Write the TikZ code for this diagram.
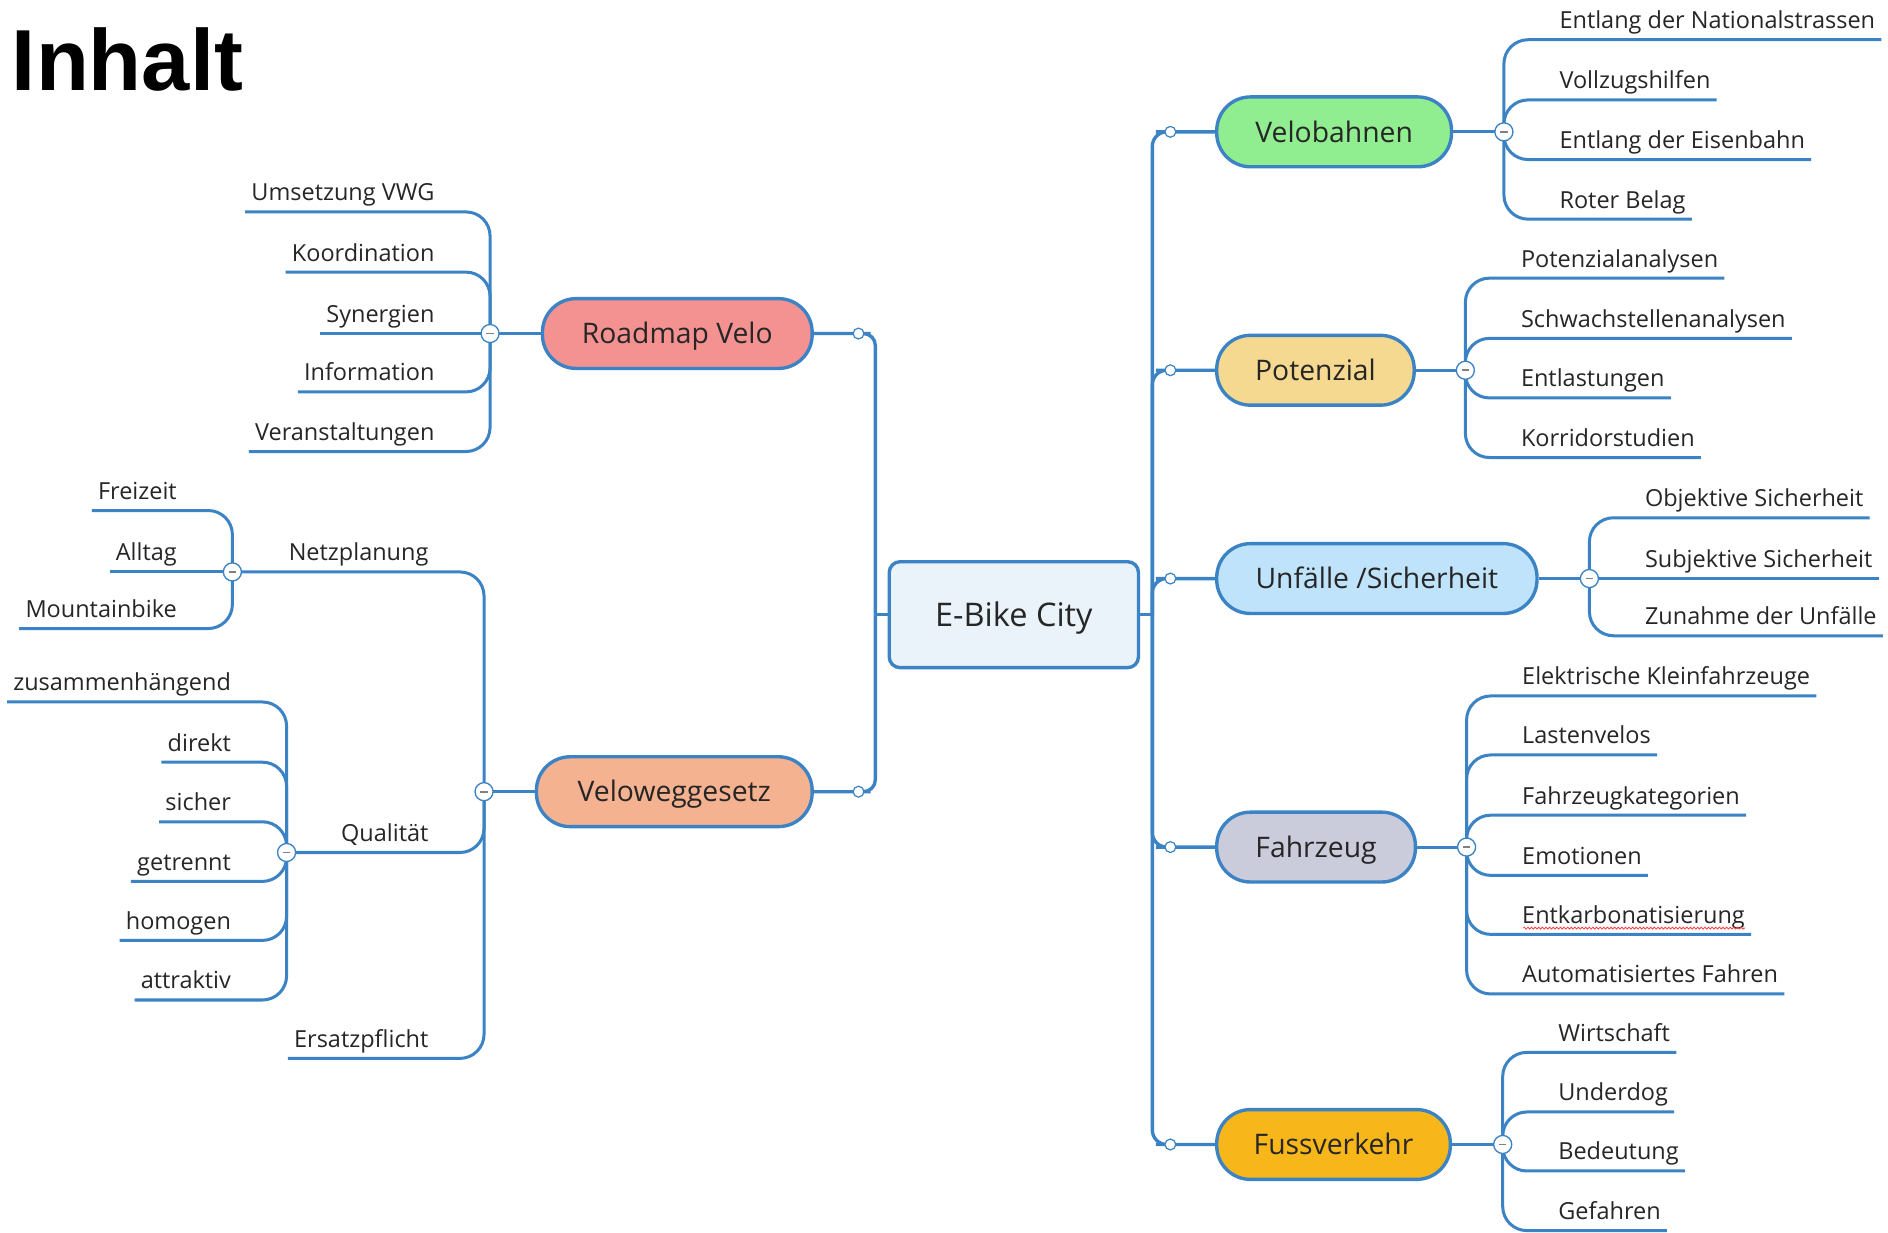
\documentclass[tikz,border=0pt]{standalone}
\usepackage{fontspec}
\setmainfont{Open Sans}
\newfontfamily\inhaltfont{Liberation Sans}
\usetikzlibrary{backgrounds,decorations.pathmorphing}
\definecolor{lineblue}{RGB}{59,131,196}
\definecolor{txt}{RGB}{38,38,38}
\definecolor{fRV}{RGB}{244,146,146}
\definecolor{fVG}{RGB}{245,178,144}
\definecolor{fVB}{RGB}{144,238,144}
\definecolor{fPO}{RGB}{245,217,144}
\definecolor{fUS}{RGB}{191,227,250}
\definecolor{fFZ}{RGB}{203,204,219}
\definecolor{fFV}{RGB}{247,182,26}
\definecolor{fEB}{RGB}{235,243,250}
\newcommand\leaffont{\fontsize{19.5}{23}\selectfont}
\newcommand\topicfont{\fontsize{23.5}{27}\selectfont}
\newcommand\centerfont{\fontsize{27}{32}\selectfont}
\begin{document}
\begin{tikzpicture}[x=1pt,y=-1pt,
  leafR/.style={anchor=south west, inner xsep=5pt, inner ysep=0pt, text depth=9pt, font=\leaffont, text=txt},
  leafL/.style={anchor=south east, inner xsep=5pt, inner ysep=0pt, text depth=9pt, font=\leaffont, text=txt},
  topic/.style={draw=lineblue, line width=2.8pt, rounded corners=28pt, minimum height=58pt, inner sep=0pt, text height=17pt, text depth=0pt, font=\topicfont, text=txt},
  minus/.style={circle, draw=lineblue, fill=white, line width=1.1pt, minimum size=15pt, inner sep=0pt},
  dot/.style={circle, draw=lineblue, fill=white, line width=1pt, minimum size=9pt, inner sep=0pt},
  trunk/.style={draw=lineblue, line width=2.8pt},
  leafline/.style={draw=lineblue, line width=2.5pt, rounded corners=20pt},
]
\useasboundingbox (0,0) rectangle (1568,1024);

% title
\node[anchor=base west, inner sep=0pt, font=\inhaltfont\bfseries\fontsize{72}{80}\selectfont] (title) at (9.7,75) {Inhalt};

% centre
\node[draw=lineblue, line width=2.8pt, rounded corners=9pt, fill=fEB, minimum width=207pt, minimum height=88pt, text height=20pt, text depth=0pt, font=\centerfont, text=txt] (ebc) at (842,510.5) {E-Bike City};

% topics
\node[topic, fill=fRV, minimum width=224pt] (rv) at (562.5,277) {Roadmap Velo};
\node[topic, fill=fVG, minimum width=229pt] (vg) at (560,657.5) {Veloweggesetz};
\node[topic, fill=fVB, minimum width=195pt] (vb) at (1108,109.5) {Velobahnen};
\node[topic, fill=fPO, minimum width=164pt] (po) at (1092.5,307.5) {Potenzial};
\node[topic, fill=fUS, minimum width=266pt] (us) at (1143.5,480.5) {Unfälle /Sicherheit};
\node[topic, fill=fFZ, minimum width=165pt] (fz) at (1093,703.5) {Fahrzeug};
\node[topic, fill=fFV, minimum width=194pt] (fv) at (1107.5,950.5) {Fussverkehr};

% small connector dots
\coordinate (lt) at (727,510.5);
\coordinate (rt) at (957,510.5);
\node[dot] (dRV) at (713,277) {};
\node[dot] (dVG) at (713,657.5) {};
\node[dot] (dVB) at (972,109.5) {};
\node[dot] (dPO) at (972,307.5) {};
\node[dot] (dUS) at (972,480.5) {};
\node[dot] (dFZ) at (972,703.5) {};
\node[dot] (dFV) at (972,950.5) {};

% minus circles
\foreach \n/\x/\y in {mRV/407/277, mVG/402/657.5, mNP/193/475, mQ/238/708, mVB/1249/109.5, mPO/1217/307.5, mUS/1320/480.5, mFZ/1218/703.5, mFV/1248/950.5}
  \node[minus] (\n) at (\x,\y) {\textcolor{gray}{\rule{6pt}{1.4pt}}};

% Roadmap Velo leaves
\node[leafL] (rv1) at (366,176) {Umsetzung VWG};
\node[leafL] (rv2) at (366,226) {Koordination};
\node[leafL] (rv3) at (366,277) {Synergien};
\node[leafL] (rv4) at (366,325.5) {Information};
\node[leafL] (rv5) at (366,375) {Veranstaltungen};

% Veloweggesetz leaves
\node[leafL] (vg1) at (361,475) {Netzplanung};
\node[leafL] (vg2) at (361,708) {Qualität};
\node[leafL] (vg3) at (361,879) {Ersatzpflicht};

\node[leafL] (np1) at (152,424) {Freizeit};
\node[leafL] (np2) at (152,475) {Alltag};
\node[leafL] (np3) at (152,522) {Mountainbike};

\node[leafL] (q1) at (197,583) {zusammenhängend};
\node[leafL] (q2) at (197,633) {direkt};
\node[leafL] (q3) at (197,682.5) {sicher};
\node[leafL] (q4) at (197,732) {getrennt};
\node[leafL] (q5) at (197,781) {homogen};
\node[leafL] (q6) at (197,830.5) {attraktiv};

% Velobahnen leaves
\node[leafR] (vb1) at (1290,33) {Entlang der Nationalstrassen};
\node[leafR] (vb2) at (1290,83) {Vollzugshilfen};
\node[leafR] (vb3) at (1290,132.5) {Entlang der Eisenbahn};
\node[leafR] (vb4) at (1290,182) {Roter Belag};

% Potenzial leaves
\node[leafR] (po1) at (1258,231) {Potenzialanalysen};
\node[leafR] (po2) at (1258,281) {Schwachstellenanalysen};
\node[leafR] (po3) at (1258,330.5) {Entlastungen};
\node[leafR] (po4) at (1258,380) {Korridorstudien};

% Unfälle leaves
\node[leafR] (us1) at (1361,430) {Objektive Sicherheit};
\node[leafR] (us2) at (1361,480.5) {Subjektive Sicherheit};
\node[leafR] (us3) at (1361,528) {Zunahme der Unfälle};

% Fahrzeug leaves
\node[leafR] (fz1) at (1259,578) {Elektrische Kleinfahrzeuge};
\node[leafR] (fz2) at (1259,627) {Lastenvelos};
\node[leafR] (fz3) at (1259,677) {Fahrzeugkategorien};
\node[leafR] (fz4) at (1259,727) {Emotionen};
\node[leafR] (fz5) at (1259,776) {Entkarbonatisierung};
\node[leafR] (fz6) at (1259,825.5) {Automatisiertes Fahren};

% Fussverkehr leaves
\node[leafR] (fv1) at (1289,874) {Wirtschaft};
\node[leafR] (fv2) at (1289,923.5) {Underdog};
\node[leafR] (fv3) at (1289,972.5) {Bedeutung};
\node[leafR] (fv4) at (1289,1022) {Gefahren};

% spell-check squiggle
\draw[red!75, line width=0.7pt, decorate, decoration={snake, amplitude=0.8pt, segment length=3pt}]
  ([xshift=6pt,yshift=-4pt]fz5.base west) -- ([xshift=-5pt,yshift=-4pt]fz5.base east);

\begin{scope}[on background layer]
\fill[white] (0,0) rectangle (1568,1024);
% trunks
\draw[trunk] (ebc.west) -- (lt);
\draw[trunk] (ebc.east) -- (rt);
\draw[trunk, rounded corners=10pt] (lt) |- (dRV.center) -- (rv.east);
\draw[trunk, rounded corners=10pt] (lt) |- (dVG.center) -- (vg.east);
\draw[trunk, rounded corners=12pt] (rt) |- (dVB.center) -- (vb.west);
\draw[trunk, rounded corners=12pt] (rt) |- (dPO.center) -- (po.west);
\draw[trunk, rounded corners=12pt] (rt) |- (dUS.center) -- (us.west);
\draw[trunk, rounded corners=12pt] (rt) |- (dFZ.center) -- (fz.west);
\draw[trunk, rounded corners=12pt] (rt) |- (dFV.center) -- (fv.west);

% topic to minus
\draw[leafline] (mRV.center) -- (rv.west);
\draw[leafline] (mVG.center) -- (vg.west);
\draw[leafline] (mVB.center) -- (vb.east);
\draw[leafline] (mPO.center) -- (po.east);
\draw[leafline] (mUS.center) -- (us.east);
\draw[leafline] (mFZ.center) -- (fz.east);
\draw[leafline] (mFV.center) -- (fv.east);

% Roadmap leaves
\draw[leafline] (mRV.center) |- (rv1.south west);
\draw[leafline] (mRV.center) |- (rv2.south west);
\draw[leafline] (mRV.center) -- (rv3.south west);
\draw[leafline] (mRV.center) |- (rv4.south west);
\draw[leafline] (mRV.center) |- (rv5.south west);

% Veloweggesetz leaves
\draw[leafline] (mVG.center) |- (mNP.center);
\draw[leafline] (mVG.center) |- (mQ.center);
\draw[leafline] (mVG.center) |- (vg3.south west);

\draw[leafline] (mNP.center) |- (np1.south west);
\draw[leafline] (mNP.center) -- (np2.south west);
\draw[leafline] (mNP.center) |- (np3.south west);

\draw[leafline] (mQ.center) |- (q1.south west);
\draw[leafline] (mQ.center) |- (q2.south west);
\draw[leafline] (mQ.center) |- (q3.south west);
\draw[leafline] (mQ.center) |- (q4.south west);
\draw[leafline] (mQ.center) |- (q5.south west);
\draw[leafline] (mQ.center) |- (q6.south west);

% right leaves
\foreach \i in {1,...,4} \draw[leafline] (mVB.center) |- (vb\i.south east);
\foreach \i in {1,...,4} \draw[leafline] (mPO.center) |- (po\i.south east);
\draw[leafline] (mUS.center) |- (us1.south east);
\draw[leafline] (mUS.center) -- (us2.south east);
\draw[leafline] (mUS.center) |- (us3.south east);
\foreach \i in {1,...,6} \draw[leafline] (mFZ.center) |- (fz\i.south east);
\foreach \i in {1,...,4} \draw[leafline] (mFV.center) |- (fv\i.south east);
\end{scope}
\end{tikzpicture}
\end{document}
